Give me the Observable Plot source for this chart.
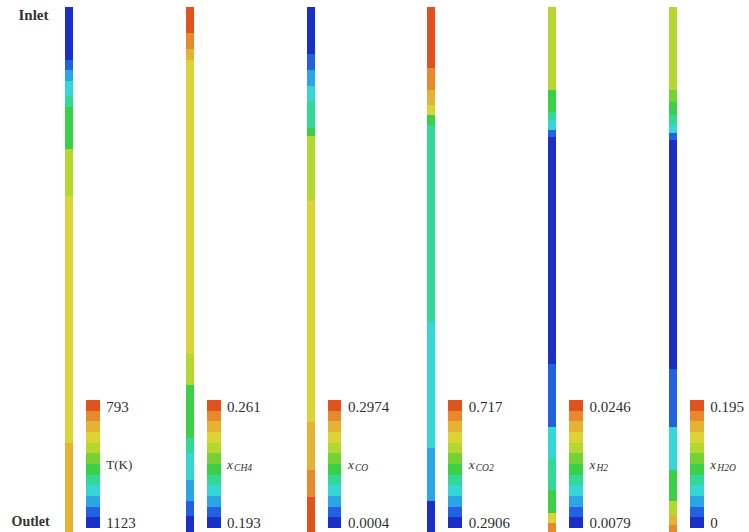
<!DOCTYPE html>
<html><head><meta charset="utf-8">
<script src="https://cdn.jsdelivr.net/npm/d3@7"></script>
<script src="https://cdn.jsdelivr.net/npm/@observablehq/plot@0.6"></script>
<style>body{margin:0;background:#fff} #chart svg{display:block}</style>
</head><body><div id="chart"></div>
<script>
// Variables shown on the six tube strips (inlet at top, outlet at bottom)
const variables = ["T", "CH4", "CO", "CO2", "H2", "H2O"];
const maxLabels = ["793", "0.261", "0.2974", "0.717", "0.0246", "0.195"];
const minLabels = ["1123", "0.193", "0.0004", "0.2906", "0.0079", "0"];
const legendSymbols = ["T(K)", "x", "x", "x", "x", "x"];
const legendSubscripts = ["", "CH4", "CO", "CO2", "H2", "H2O"];

// 12 contour levels, 0 = lowest (blue) ... 11 = highest (red)
const levels = d3.range(12);
const palette = ["#1a2ec8", "#2262e0", "#2aa6e6", "#34d6d6", "#34d896", "#3ccf48",
                 "#76d234", "#b4d830", "#dcd434", "#e6b234", "#e88a2c", "#e0521e"];

// Axial profiles: [start fraction, end fraction, contour level]
const profileT = [[0,0.10,0],[0.10,0.12,1],[0.12,0.14,2],[0.14,0.17,3],[0.17,0.19,4],
  [0.19,0.27,5],[0.27,0.36,7],[0.36,0.83,8],[0.83,1,9]];
const profileCH4 = [[0,0.05,11],[0.05,0.08,10],[0.08,0.10,9],[0.10,0.66,8],[0.66,0.72,7],
  [0.72,0.82,5],[0.82,0.85,4],[0.85,0.90,3],[0.90,0.94,2],[0.94,0.97,1],[0.97,1,0]];
const profileCO = [[0,0.09,0],[0.09,0.12,1],[0.12,0.15,2],[0.15,0.18,3],[0.18,0.23,4],
  [0.23,0.245,5],[0.245,0.37,7],[0.37,0.79,8],[0.79,0.882,9],[0.882,0.933,10],[0.933,1,11]];
const profileCO2 = [[0,0.116,11],[0.116,0.158,10],[0.158,0.187,9],[0.187,0.206,8],[0.206,0.225,5],
  [0.225,0.60,4],[0.60,0.84,3],[0.84,0.94,2],[0.94,1,0]];
const profileH2 = [[0,0.158,7],[0.158,0.20,5],[0.20,0.215,4],[0.215,0.234,3],[0.234,0.248,1],
  [0.248,0.68,0],[0.68,0.80,1],[0.80,0.86,3],[0.86,0.92,4],[0.92,0.963,5],[0.963,0.982,8],[0.982,1,10]];
const profileH2O = [[0,0.158,7],[0.158,0.18,6],[0.18,0.206,5],[0.206,0.225,4],[0.225,0.24,3],
  [0.24,0.253,1],[0.253,0.69,0],[0.69,0.80,1],[0.80,0.882,3],[0.882,0.94,5],[0.94,0.968,7],
  [0.968,0.987,9],[0.987,1,10]];
const profiles = [profileT, profileCH4, profileCO, profileCO2, profileH2, profileH2O];

const stripRows = profiles.flatMap((p, i) => p.map(([a, b, l]) => ({i, a, b, l})));

// colour bar layout (in axial-fraction units of the shared y scale)
const cbTop = 0.7486, cbBottom = 0.9924, cbH = (cbBottom - cbTop) / levels.length;
const cbRows = variables.flatMap((v, i) => levels.map(k => ({i, k, y1: cbBottom - (k + 1) * cbH, y2: cbBottom - k * cbH})));
const cbX1 = 0.14, cbX2 = 0.255;
const labelFont = {fontFamily: "Liberation Serif, Times New Roman, serif", fill: "#303030", textAnchor: "start"};

const chart = Plot.plot({
  width: 749, height: 532, margin: 0,
  x: {domain: [0, 5], range: [69, 673], axis: null},
  y: {domain: [0, 1], range: [7, 532], axis: null},
  color: {type: "ordinal", domain: levels, range: palette},
  style: {background: "white"},
  marks: [
    Plot.rect(stripRows, {x1: d => d.i - 0.033, x2: d => d.i + 0.033, y1: "a", y2: "b", fill: "l", shapeRendering: "crispEdges"}),
    Plot.rect(cbRows, {x1: d => d.i + cbX1, x2: d => d.i + cbX2, y1: "y1", y2: "y2", fill: "k", shapeRendering: "crispEdges"}),
    Plot.text(variables, {x: (d, i) => i + cbX2, y: cbTop + 0.012, text: (d, i) => maxLabels[i], dx: 6, fontSize: 15, ...labelFont}),
    Plot.text(variables, {x: (d, i) => i + cbX2, y: cbBottom - 0.011, text: (d, i) => minLabels[i], dx: 6, fontSize: 15, ...labelFont}),
    Plot.text(variables.filter((d, i) => legendSubscripts[i] === ""), {x: d => variables.indexOf(d) + cbX2, y: (cbTop + cbBottom) / 2, text: d => legendSymbols[variables.indexOf(d)], dx: 6, fontSize: 13, ...labelFont}),
    Plot.text(variables.filter((d, i) => legendSubscripts[i] !== ""), {x: d => variables.indexOf(d) + cbX2, y: (cbTop + cbBottom) / 2, text: d => legendSymbols[variables.indexOf(d)], dx: 6, fontSize: 13, fontStyle: "italic", ...labelFont}),
    Plot.text(variables.filter((d, i) => legendSubscripts[i] !== ""), {x: d => variables.indexOf(d) + cbX2, y: (cbTop + cbBottom) / 2, text: d => legendSubscripts[variables.indexOf(d)], dx: 13, dy: 3, fontSize: 9.5, fontStyle: "italic", ...labelFont}),
    Plot.text(["Inlet"], {frameAnchor: "top-left", dx: 18, dy: 9, fontSize: 15, fontWeight: "bold", fontFamily: "Liberation Serif, serif", fill: "#333"}),
    Plot.text(["Outlet"], {frameAnchor: "bottom-left", dx: 11, dy: -7, fontSize: 14, fontWeight: "bold", fontFamily: "Liberation Serif, serif", fill: "#333"})
  ]
});
document.getElementById("chart").append(chart);
</script>
</body></html>
